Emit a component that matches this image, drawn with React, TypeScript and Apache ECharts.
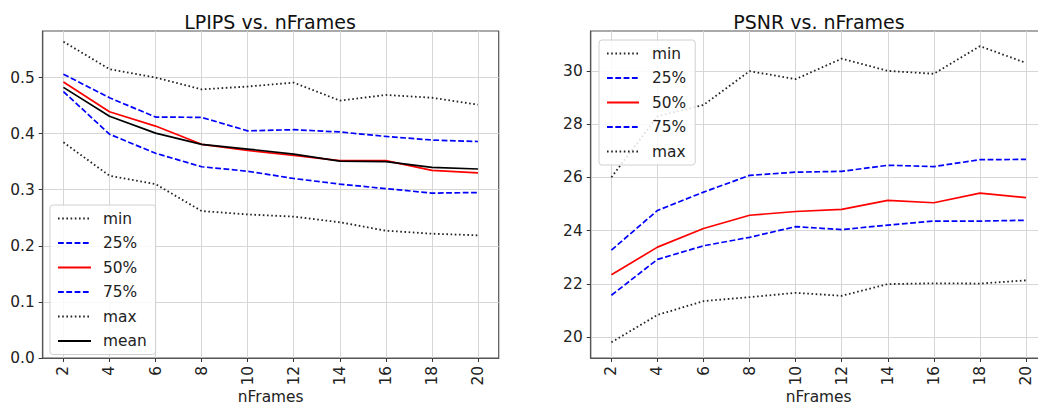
import React, { useEffect, useRef } from "react";
import * as echarts from "echarts";

const frames = [2, 4, 6, 8, 10, 12, 14, 16, 18, 20];

const lpipsMin = [0.3845, 0.325, 0.31, 0.262, 0.256, 0.252, 0.242, 0.227, 0.2216, 0.2187];
const lpipsP25 = [0.475, 0.399, 0.365, 0.341, 0.333, 0.32, 0.31, 0.302, 0.294, 0.295];
const lpipsP50 = [0.492, 0.439, 0.4135, 0.381, 0.37, 0.361, 0.352, 0.352, 0.3345, 0.33];
const lpipsP75 = [0.506, 0.464, 0.4296, 0.429, 0.405, 0.407, 0.403, 0.395, 0.3886, 0.386];
const lpipsMax = [0.564, 0.515, 0.5, 0.479, 0.484, 0.491, 0.459, 0.469, 0.464, 0.4516];
const lpipsMean = [0.4825, 0.431, 0.401, 0.381, 0.3725, 0.3636, 0.351, 0.35, 0.34, 0.337];

const psnrMin = [19.8, 20.83, 21.35, 21.5, 21.66, 21.55, 21.99, 22.02, 22.01, 22.13];
const psnrP25 = [21.57, 22.92, 23.43, 23.75, 24.15, 24.04, 24.21, 24.36, 24.36, 24.39];
const psnrP50 = [22.34, 23.38, 24.08, 24.58, 24.72, 24.8, 25.14, 25.05, 25.41, 25.24];
const psnrP75 = [23.27, 24.76, 25.45, 26.08, 26.2, 26.23, 26.46, 26.41, 26.67, 26.68];
const psnrMax = [26.01, 28.3, 28.73, 30.0, 29.7, 30.47, 30.01, 29.9, 30.94, 30.31];

const lpipsTicks = [0, 0.1, 0.2, 0.3, 0.4, 0.5];
const psnrTicks = [20, 22, 24, 26, 28, 30];

const FONT = "DejaVu Sans";
const TXT = "#222";

const dotted = { color: "#222", width: 1.8, type: [1.6, 2.6] as number[] };
const dashed = { color: "#0000ff", width: 1.7, type: [5.8, 2.5] as number[] };
const redSolid = { color: "#ff0000", width: 1.7, type: "solid" };
const blackSolid = { color: "#000000", width: 1.7, type: "solid" };

function mk(name: string, vals: number[], style: any, gi: number) {
  return {
    type: "line",
    name,
    xAxisIndex: gi,
    yAxisIndex: gi,
    symbol: "none",
    showSymbol: false,
    data: frames.map((f, i) => [f, vals[i]]),
    lineStyle: style,
    itemStyle: { color: style.color },
    emphasis: { disabled: true },
  };
}

function xAxis(gi: number) {
  return {
    type: "value",
    gridIndex: gi,
    min: 1.1,
    max: 20.9,
    name: "nFrames",
    nameLocation: "middle",
    nameGap: 31,
    nameMoveOverlap: false,
    nameTextStyle: { fontFamily: FONT, fontSize: 15.4, color: TXT },
    axisLine: { show: true, lineStyle: { color: "#555", width: 1.2 } },
    axisTick: { show: true, inside: false, length: 4, customValues: frames, lineStyle: { color: "#333" } },
    axisLabel: {
      customValues: frames,
      rotate: 90,
      margin: 8,
      fontFamily: FONT,
      fontSize: 15.4,
      color: TXT,
    },
    splitLine: { show: true, lineStyle: { color: "#d6d6d6", width: 1 } },
  };
}

function yAxis(gi: number, min: number, max: number, ticks: number[], dec: number) {
  return {
    type: "value",
    gridIndex: gi,
    min,
    max,
    axisLine: { show: true, lineStyle: { color: "#555", width: 1.2 } },
    axisTick: { show: true, inside: false, length: 4, customValues: ticks, lineStyle: { color: "#333" } },
    axisLabel: {
      customValues: ticks,
      margin: 8,
      fontFamily: FONT,
      fontSize: 15.4,
      color: TXT,
      formatter: (v: number) => v.toFixed(dec),
    },
    splitLine: { show: true, lineStyle: { color: "#d6d6d6", width: 1 } },
  };
}

function legend(left: number, top: number, names: string[], textPadLeft: number, itemWidth: number) {
  return {
    orient: "vertical",
    left,
    top,
    data: names,
    itemWidth,
    itemHeight: 14,
    itemGap: 9.5,
    padding: [6, 9, 6, 7],
    backgroundColor: "rgba(255,255,255,0.85)",
    borderColor: "#d0d0d0",
    borderWidth: 1,
    borderRadius: 3,
    selectedMode: false,
    itemStyle: { opacity: 0, color: "transparent", borderWidth: 0 },
    textStyle: {
      fontFamily: FONT,
      fontSize: 15.4,
      color: TXT,
      lineHeight: 14,
      padding: [0, 0, 0, textPadLeft],
    },
  };
}

export default function App() {
  const ref = useRef<HTMLDivElement>(null);
  useEffect(() => {
    if (!ref.current) return;
    const chart = echarts.init(ref.current, undefined, { renderer: "svg" });
    chart.setOption({
      animation: false,
      backgroundColor: "#ffffff",
      title: [
        {
          text: "LPIPS vs. nFrames",
          left: 265,
          top: 7,
          textAlign: "center",
          textStyle: { fontFamily: FONT, fontSize: 19, fontWeight: "normal", color: "#111" },
        },
        {
          text: "PSNR vs. nFrames",
          left: 814,
          top: 7,
          textAlign: "center",
          textStyle: { fontFamily: FONT, fontSize: 19, fontWeight: "normal", color: "#111" },
        },
      ],
      grid: [
        { left: 42.7, top: 31, width: 456, height: 327, show: true, borderColor: "#555", borderWidth: 1.2, containLabel: false, outerBoundsMode: "none" },
        { left: 590.7, top: 31, width: 456, height: 327, show: true, borderColor: "#555", borderWidth: 1.2, containLabel: false, outerBoundsMode: "none" },
      ],
      xAxis: [xAxis(0), xAxis(1)],
      yAxis: [yAxis(0, 0, 0.583, lpipsTicks, 1), yAxis(1, 19.21, 31.51, psnrTicks, 0)],
      legend: [
        legend(50, 205, ["min", "25%", "50%", "75%", "max", "mean"], 7, 33),
        legend(599, 40, ["min", "25%", "50%", "75%", "max"], 8, 32),
      ],
      series: [
        mk("min", lpipsMin, dotted, 0),
        mk("25%", lpipsP25, dashed, 0),
        mk("50%", lpipsP50, redSolid, 0),
        mk("75%", lpipsP75, dashed, 0),
        mk("max", lpipsMax, dotted, 0),
        mk("mean", lpipsMean, blackSolid, 0),
        mk("min", psnrMin, dotted, 1),
        mk("25%", psnrP25, dashed, 1),
        mk("50%", psnrP50, redSolid, 1),
        mk("75%", psnrP75, dashed, 1),
        mk("max", psnrMax, dotted, 1),
      ],
    });
    return () => chart.dispose();
  }, []);
  return (
    <div
      ref={ref}
      style={{ position: "fixed", left: 0, top: 0, width: 1038, height: 405, background: "#fff" }}
    />
  );
}
